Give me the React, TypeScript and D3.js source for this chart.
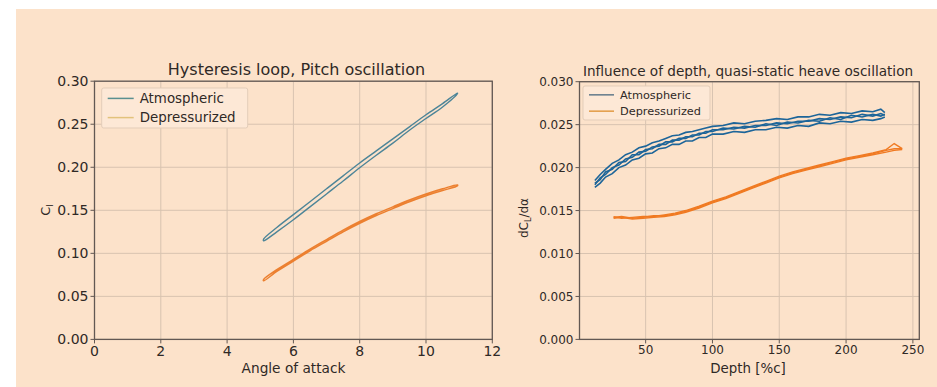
import React from 'react';
import * as d3 from 'd3';

// pitch oscillation, hysteresis loop
const pitchAoa = [5.1, 5.5, 6, 6.5, 7, 7.5, 8, 8.5, 9, 9.5, 10, 10.5, 10.95];
const pitchAtmLower = [0.1145, 0.125, 0.139, 0.154, 0.169, 0.184, 0.1995, 0.214, 0.228, 0.243, 0.2567, 0.27, 0.2857];
const pitchAtmUpper = [0.1165, 0.13, 0.145, 0.16, 0.175, 0.19, 0.205, 0.219, 0.233, 0.247, 0.261, 0.274, 0.2862];
const pitchDepLower = [0.068, 0.079, 0.091, 0.103, 0.114, 0.125, 0.135, 0.144, 0.152, 0.16, 0.167, 0.173, 0.1785];
const pitchDepUpper = [0.0695, 0.081, 0.093, 0.105, 0.116, 0.127, 0.137, 0.146, 0.154, 0.162, 0.169, 0.175, 0.1795];

// quasi-static heave, influence of depth
const heaveDepthAtm = [12, 16, 20, 25, 30, 35, 40, 45, 50, 55, 60, 65, 70, 75, 80, 85, 90, 95, 100, 108, 116, 124, 132, 140, 148, 156, 164, 172, 180, 188, 196, 204, 212, 220, 226, 229];
const heaveAtmA = [0.0185, 0.0192, 0.0198, 0.0205, 0.0209, 0.0215, 0.0218, 0.0223, 0.0225, 0.0229, 0.0231, 0.0234, 0.0237, 0.0238, 0.0241, 0.0242, 0.0244, 0.0246, 0.0248, 0.0249, 0.0252, 0.0251, 0.0254, 0.0255, 0.0257, 0.0256, 0.0259, 0.0259, 0.0262, 0.0261, 0.0264, 0.0263, 0.0266, 0.0265, 0.0268, 0.0264];
const heaveAtmB = [0.0177, 0.0182, 0.0189, 0.0193, 0.02, 0.0203, 0.0209, 0.0211, 0.0216, 0.0217, 0.0222, 0.0223, 0.0227, 0.0227, 0.0231, 0.0231, 0.0235, 0.0235, 0.0239, 0.0239, 0.0242, 0.0241, 0.0244, 0.0244, 0.0247, 0.0246, 0.0249, 0.0248, 0.0252, 0.0251, 0.0254, 0.0253, 0.0256, 0.0255, 0.0257, 0.0259];
const heaveAtmC = [0.018, 0.0188, 0.0192, 0.02, 0.0203, 0.021, 0.0212, 0.0218, 0.0219, 0.0224, 0.0225, 0.023, 0.023, 0.0234, 0.0234, 0.0238, 0.0238, 0.0242, 0.0242, 0.0246, 0.0245, 0.0248, 0.0247, 0.0251, 0.0249, 0.0253, 0.0252, 0.0255, 0.0254, 0.0258, 0.0256, 0.0261, 0.0259, 0.0262, 0.026, 0.0262];
const heaveAtmD = [0.0182, 0.0186, 0.0195, 0.0198, 0.0206, 0.0207, 0.0215, 0.0215, 0.0221, 0.0222, 0.0227, 0.0227, 0.0232, 0.0232, 0.0236, 0.0236, 0.024, 0.024, 0.0244, 0.0244, 0.0247, 0.0246, 0.0249, 0.0249, 0.0252, 0.0251, 0.0254, 0.0254, 0.0257, 0.0256, 0.0259, 0.0258, 0.0262, 0.026, 0.0263, 0.0261];

const heaveDepthDep = [26, 32, 40, 48, 56, 64, 72, 80, 90, 100, 110, 120, 130, 140, 150, 160, 170, 180, 190, 200, 210, 220, 230, 236, 242];
const heaveDepA = [0.0143, 0.0141, 0.0142, 0.0143, 0.0143, 0.0145, 0.0147, 0.015, 0.0155, 0.0161, 0.0166, 0.0172, 0.0178, 0.0184, 0.019, 0.0195, 0.0199, 0.0203, 0.0207, 0.0211, 0.0214, 0.0217, 0.0221, 0.0228, 0.0222];
const heaveDepB = [0.0141, 0.0142, 0.014, 0.0141, 0.0142, 0.0143, 0.0145, 0.0148, 0.0153, 0.0159, 0.0164, 0.017, 0.0176, 0.0182, 0.0188, 0.0193, 0.0197, 0.0201, 0.0205, 0.0209, 0.0212, 0.0215, 0.0218, 0.022, 0.0221];
const heaveDepC = [0.0142, 0.0143, 0.0141, 0.0142, 0.0144, 0.0144, 0.0146, 0.0149, 0.0154, 0.016, 0.0165, 0.0171, 0.0177, 0.0183, 0.0189, 0.0194, 0.0198, 0.0202, 0.0206, 0.021, 0.0213, 0.0216, 0.022, 0.0222, 0.0222];

const seriesNames = ['Atmospheric', 'Depressurized'];
const pitchXTicks = [0, 2, 4, 6, 8, 10, 12];
const pitchYTicks = [0, 0.05, 0.1, 0.15, 0.2, 0.25, 0.3];
const heaveXTicks = [50, 100, 150, 200, 250];
const heaveYTicks = [0, 0.005, 0.01, 0.015, 0.02, 0.025, 0.03];

const BG = '#fce2ca';
const GRID = '#d8c3b0';
const SPINE = '#625853';
const TXT = '#2f2926';
const FONT = 'DejaVu Sans, sans-serif';

function Axes({ x, y, xTicks, yTicks, xFmt, yFmt, fs }) {
  const [x0, x1] = x.range();
  const [y0, y1] = y.range();
  return (
    <g>
      {xTicks.map(t => (
        <g key={'x' + t}>
          <line x1={x(t)} x2={x(t)} y1={y0} y2={y1} stroke={GRID} strokeWidth={1} />
          <line x1={x(t)} x2={x(t)} y1={y0} y2={y0 + 4} stroke={SPINE} strokeWidth={1} />
          <text x={x(t)} y={y0 + 5 + fs * 0.8} textAnchor="middle" fontSize={fs} fill={TXT}>{xFmt(t)}</text>
        </g>
      ))}
      {yTicks.map(t => (
        <g key={'y' + t}>
          <line x1={x0} x2={x1} y1={y(t)} y2={y(t)} stroke={GRID} strokeWidth={1} />
          <line x1={x0 - 4} x2={x0} y1={y(t)} y2={y(t)} stroke={SPINE} strokeWidth={1} />
          <text x={x0 - 6} y={y(t)} dy="0.35em" textAnchor="end" fontSize={fs} fill={TXT}>{yFmt(t)}</text>
        </g>
      ))}
      <rect x={x0} y={y1} width={x1 - x0} height={y0 - y1} fill="none" stroke={SPINE} strokeWidth={1.3} />
    </g>
  );
}

function Legend({ x, y, w, h, fs, colors, lineLen }) {
  return (
    <g>
      <rect x={x} y={y} width={w} height={h} rx={2} fill="#fde8d6" stroke="#e3cdb9" strokeWidth={1} />
      {seriesNames.map((n, i) => {
        const cy = y + h * (i === 0 ? 0.26 : 0.74);
        return (
          <g key={n}>
            <line x1={x + 6} x2={x + 6 + lineLen} y1={cy} y2={cy} stroke={colors[i]} strokeWidth={1.5} />
            <text x={x + 12 + lineLen} y={cy} dy="0.35em" fontSize={fs} fill={TXT}>{n}</text>
          </g>
        );
      })}
    </g>
  );
}

export default function App() {
  // left panel
  const px = d3.scaleLinear().domain([0, 12]).range([94.5, 492.3]);
  const py = d3.scaleLinear().domain([0, 0.3]).range([339.4, 81.2]);
  const loop = (xs, lo, up) => {
    const pts = xs.map((a, i) => [a, lo[i]]).concat(xs.map((a, i) => [a, up[i]]).reverse());
    return d3.line().x(d => px(d[0])).y(d => py(d[1])).curve(d3.curveCatmullRomClosed)(pts);
  };

  // right panel
  const hx = d3.scaleLinear().domain([0.5, 254.8]).range([579.5, 919.3]);
  const hy = d3.scaleLinear().domain([0, 0.03]).range([339.4, 81.7]);
  const heaveLine = (xs, ys) => d3.line().x((d, i) => hx(xs[i])).y(d => hy(d))(ys);

  const blue = '#1d6599';
  const orange = '#f07a22';

  return (
    <svg width={937} height={387} style={{ position: 'absolute', left: 0, top: 0 }} fontFamily={FONT}>
      <rect x={0} y={0} width={937} height={387} fill="#ffffff" />
      <rect x={16} y={9} width={921} height={378} fill={BG} />

      {/* left panel */}
      <Axes x={px} y={py} xTicks={pitchXTicks} yTicks={pitchYTicks} xFmt={d => String(d)} yFmt={d3.format('.2f')} fs={14} />
      <path d={loop(pitchAoa, pitchAtmLower, pitchAtmUpper)} fill="none" stroke="#4d8598" strokeWidth={1.4} />
      <path d={loop(pitchAoa, pitchDepLower, pitchDepUpper)} fill="none" stroke="#ec8030" strokeWidth={1.5} />
      <Legend x={101.7} y={88} w={146} h={40} fs={13.4} colors={['#5a9090', '#e2c27c']} lineLen={26} />
      <text x={296.5} y={75} textAnchor="middle" fontSize={16} fill={TXT}>Hysteresis loop, Pitch oscillation</text>
      <text x={293.5} y={373} textAnchor="middle" fontSize={13.7} fill={TXT}>Angle of attack</text>
      <text transform="translate(50,210) rotate(-90)" textAnchor="middle" fontSize={13} fill={TXT}>
        C<tspan fontSize={9} dy={3}>l</tspan>
      </text>

      {/* right panel */}
      <Axes x={hx} y={hy} xTicks={heaveXTicks} yTicks={heaveYTicks} xFmt={d => String(d)} yFmt={d3.format('.3f')} fs={12} />
      {[heaveAtmA, heaveAtmB, heaveAtmC, heaveAtmD].map((ys, i) => (
        <path key={'a' + i} d={heaveLine(heaveDepthAtm, ys)} fill="none" stroke={blue} strokeWidth={1.6} />
      ))}
      {[heaveDepA, heaveDepB, heaveDepC].map((ys, i) => (
        <path key={'d' + i} d={heaveLine(heaveDepthDep, ys)} fill="none" stroke={orange} strokeWidth={1.4} />
      ))}
      <Legend x={583} y={86} w={127} h={34} fs={11.3} colors={['#62798a', '#e29a44']} lineLen={25} />
      <text x={748} y={76} textAnchor="middle" fontSize={13.6} fill={TXT}>Influence of depth, quasi-static heave oscillation</text>
      <text x={748} y={373} textAnchor="middle" fontSize={13.4} fill={TXT}>Depth [%c]</text>
      <text transform="translate(528,218) rotate(-90)" textAnchor="middle" fontSize={12} fill={TXT}>
        dC<tspan fontSize={8} dy={3}>L</tspan><tspan dy={-3}>/dα</tspan>
      </text>
    </svg>
  );
}
